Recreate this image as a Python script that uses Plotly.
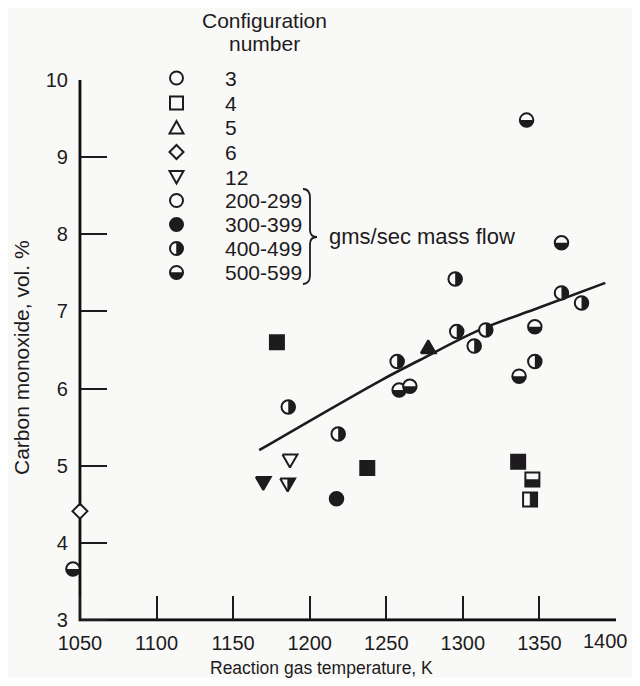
import numpy as np
import plotly.graph_objects as go

# ---------------- data ----------------
# Configuration 3 (circles), by mass-flow class
c3_300_T = [1217.5]
c3_300_CO = [4.57]
c3_400_T = [1186.0, 1218.6, 1257.1, 1295.0, 1296.0, 1307.4, 1315.0, 1347.0, 1364.4, 1377.5]
c3_400_CO = [5.76, 5.41, 6.35, 7.42, 6.74, 6.55, 6.76, 6.35, 7.24, 7.11]
c3_500_T = [1045.4, 1258.4, 1265.4, 1336.7, 1347.0, 1341.6, 1364.4]
c3_500_CO = [3.66, 5.98, 6.03, 6.16, 6.80, 9.48, 7.89]
# Configuration 4 (squares)
c4_300_T = [1178.6, 1237.6, 1336.1]
c4_300_CO = [6.60, 4.97, 5.05]
c4_400_T = [1343.9]
c4_400_CO = [4.56]
c4_500_T = [1345.4]
c4_500_CO = [4.82]
# Configuration 5 (triangle up)
c5_300_T = [1277.4]
c5_300_CO = [6.54]
# Configuration 6 (diamond)
c6_200_T = [1050.0]
c6_200_CO = [4.41]
# Configuration 12 (triangle down)
c12_200_T = [1187.1]
c12_200_CO = [5.06]
c12_300_T = [1169.7]
c12_300_CO = [4.77]
c12_400_T = [1185.6]
c12_400_CO = [4.75]
# Fitted curve
fit_T = [1167, 1246, 1272, 1311, 1350, 1393]
fit_CO = [5.20, 6.10, 6.37, 6.76, 7.05, 7.37]

x_ticks = [1050, 1100, 1150, 1200, 1250, 1300, 1350, 1400]
y_ticks = [3, 4, 5, 6, 7, 8, 9, 10]
legend_labels = ["3", "4", "5", "6", "12", "200-299", "300-399", "400-499", "500-599"]

# ---------------- layout geometry ----------------
OFF = 8                      # page body margin
W, H = 624, 670
ML, MR, MT, MB = 49, 16, 72, 55
XR = [1035, 1400]
YR = [2.96, 10.0]
PW, PH = W - ML - MR, H - MT - MB
KX = PW / (XR[1] - XR[0])   # px per K
KY = PH / (YR[1] - YR[0])   # px per vol.%

BG = "#f9f9f7"
K = "#1d1b1d"
FONT = "Liberation Sans, Arial, sans-serif"


def PX(x):  # page pixel -> paper
    return (x - OFF - ML) / PW


def PY(y):
    return (H - MB - (y - OFF)) / PH


def dy_paper(v):
    return (v - YR[0]) / (YR[1] - YR[0])


def dx_paper(v):
    return (v - XR[0]) / (XR[1] - XR[0])


# ---------- helpers producing polygons in data space ----------
def join(polys):
    xs, ys = [], []
    for px_, py_ in polys:
        xs += list(px_) + [None]
        ys += list(py_) + [None]
    return xs, ys


def half_circle(T, C, r, side):
    if side == "bottom":
        th = np.linspace(np.pi, 2 * np.pi, 40)
    else:
        th = np.linspace(-np.pi / 2, np.pi / 2, 40)
    return (list(T + r * np.cos(th) / KX), list(C + r * np.sin(th) / KY))


def half_square(T, C, h, side):
    dx, dy = h / KX, h / KY
    if side == "bottom":
        return ([T - dx, T + dx, T + dx, T - dx, T - dx], [C - dy, C - dy, C, C, C - dy])
    return ([T, T + dx, T + dx, T, T], [C - dy, C - dy, C + dy, C + dy, C - dy])


def triangle(T, C, hw, hh, up):
    dx, dy = hw / KX, hh / KY
    if up:
        return ([T - dx, T + dx, T, T - dx], [C - dy, C - dy, C + dy, C - dy])
    return ([T - dx, T + dx, T, T - dx], [C + dy, C + dy, C - dy, C + dy])


def half_tri_down_right(T, C, hw, hh):
    dx, dy = hw / KX, hh / KY
    return ([T, T + dx, T, T], [C + dy, C + dy, C - dy, C + dy])


fig = go.Figure()

# axis frame (left and bottom) as a thin filled band, under the marks
AW = 1.1  # half line width in px
fx = [x_ticks[0] - AW / KX, x_ticks[-1], x_ticks[-1], x_ticks[0] + AW / KX, x_ticks[0] + AW / KX,
      x_ticks[0] - AW / KX, x_ticks[0] - AW / KX]
fy = [y_ticks[0] - AW / KY, y_ticks[0] - AW / KY, y_ticks[0] + AW / KY, y_ticks[0] + AW / KY,
      y_ticks[-1], y_ticks[-1], y_ticks[0] - AW / KY]
fig.add_trace(go.Scatter(x=fx, y=fy, mode="lines", fill="toself", fillcolor="#111111",
                         line=dict(color="#111111", width=0.6), hoverinfo="skip"))

# fitted curve
fig.add_trace(go.Scatter(x=fit_T, y=fit_CO, mode="lines", line=dict(color=K, width=2.6, shape="spline"),
                         hoverinfo="skip"))

CS, SS, DS = 13.5, 14, 11.5
for xs, ys, fill in [(c3_400_T, c3_400_CO, BG), (c3_500_T, c3_500_CO, BG), (c3_300_T, c3_300_CO, K)]:
    fig.add_trace(go.Scatter(x=xs, y=ys, mode="markers",
                             marker=dict(symbol="circle", size=CS, color=fill, line=dict(color=K, width=2))))
for xs, ys, fill in [(c4_400_T, c4_400_CO, BG), (c4_500_T, c4_500_CO, BG), (c4_300_T, c4_300_CO, K)]:
    fig.add_trace(go.Scatter(x=xs, y=ys, mode="markers",
                             marker=dict(symbol="square", size=SS, color=fill, line=dict(color=K, width=2))))
fig.add_trace(go.Scatter(x=c6_200_T, y=c6_200_CO, mode="markers",
                         marker=dict(symbol="diamond", size=DS, color=BG, line=dict(color=K, width=2))))

HW, HH = 7.5, 6.5
tri_open = join([triangle(t, c, HW, HH, False) for t, c in zip(c12_200_T + c12_400_T, c12_200_CO + c12_400_CO)])
fig.add_trace(go.Scatter(x=tri_open[0], y=tri_open[1], mode="lines", fill="toself", fillcolor=BG,
                         line=dict(color=K, width=2), hoverinfo="skip"))
tri_fill = join([triangle(t, c, HW, HH, False) for t, c in zip(c12_300_T, c12_300_CO)] +
                [triangle(t, c, HW, HH, True) for t, c in zip(c5_300_T, c5_300_CO)])
fig.add_trace(go.Scatter(x=tri_fill[0], y=tri_fill[1], mode="lines", fill="toself", fillcolor=K,
                         line=dict(color=K, width=2), hoverinfo="skip"))

halves = ([half_circle(t, c, CS / 2, "right") for t, c in zip(c3_400_T, c3_400_CO)] +
          [half_circle(t, c, CS / 2, "bottom") for t, c in zip(c3_500_T, c3_500_CO)] +
          [half_square(t, c, SS / 2, "right") for t, c in zip(c4_400_T, c4_400_CO)] +
          [half_square(t, c, SS / 2, "bottom") for t, c in zip(c4_500_T, c4_500_CO)] +
          [half_tri_down_right(t, c, HW, HH) for t, c in zip(c12_400_T, c12_400_CO)])
hx, hy = join(halves)
fig.add_trace(go.Scatter(x=hx, y=hy, mode="lines", fill="toself", fillcolor=K,
                         line=dict(color=K, width=0.5), hoverinfo="skip"))

# ---------------- legend (paper space) ----------------
shapes = []
LX = 176.5
rows_y = [78, 103, 127.5, 152, 177, 200.5, 224.5, 248.5, 272.5]
LR = 6.5


def poly_path(pts):
    return "M " + " L ".join(f"{PX(a):.5f},{PY(b):.5f}" for a, b in pts) + " Z"


def circle_shape(cx, cy, r, fill):
    return dict(type="circle", xref="paper", yref="paper", x0=PX(cx - r), x1=PX(cx + r),
                y0=PY(cy + r), y1=PY(cy - r), line=dict(color=K, width=2), fillcolor=fill)


for i, cy in enumerate(rows_y):
    if i in (0, 5):
        shapes.append(circle_shape(LX, cy, LR, BG))
    elif i == 6:
        shapes.append(circle_shape(LX, cy, LR, K))
    elif i in (7, 8):
        shapes.append(circle_shape(LX, cy, LR, BG))
        th = np.linspace(-np.pi / 2, np.pi / 2, 30) if i == 7 else np.linspace(0, np.pi, 30)
        pts = [(LX + LR * np.cos(t), cy + LR * np.sin(t)) for t in th]
        shapes.append(dict(type="path", xref="paper", yref="paper", path=poly_path(pts),
                           fillcolor=K, line=dict(color=K, width=0.5)))
    elif i == 1:
        shapes.append(dict(type="rect", xref="paper", yref="paper", x0=PX(LX - LR), x1=PX(LX + LR),
                           y0=PY(cy + LR), y1=PY(cy - LR), line=dict(color=K, width=2), fillcolor=BG))
    elif i == 2:
        pts = [(LX - 7, cy + 6), (LX + 7, cy + 6), (LX, cy - 6.5)]
        shapes.append(dict(type="path", xref="paper", yref="paper", path=poly_path(pts),
                           fillcolor=BG, line=dict(color=K, width=2)))
    elif i == 3:
        pts = [(LX - 7, cy), (LX, cy - 7), (LX + 7, cy), (LX, cy + 7)]
        shapes.append(dict(type="path", xref="paper", yref="paper", path=poly_path(pts),
                           fillcolor=BG, line=dict(color=K, width=2)))
    elif i == 4:
        pts = [(LX - 7, cy - 6), (LX + 7, cy - 6), (LX, cy + 6.5)]
        shapes.append(dict(type="path", xref="paper", yref="paper", path=poly_path(pts),
                           fillcolor=BG, line=dict(color=K, width=2)))

# brace
bx0, bx1, bxm = 303, 310, 317
by0, by1, bym = 189, 284, 237
brace = (f"M {PX(bx0)},{PY(by0)} Q {PX(bx1)},{PY(by0)} {PX(bx1)},{PY(by0 + 9)} "
         f"L {PX(bx1)},{PY(bym - 7)} Q {PX(bx1)},{PY(bym)} {PX(bxm)},{PY(bym)} "
         f"Q {PX(bx1)},{PY(bym)} {PX(bx1)},{PY(bym + 7)} "
         f"L {PX(bx1)},{PY(by1 - 9)} Q {PX(bx1)},{PY(by1)} {PX(bx0)},{PY(by1)}")
shapes.append(dict(type="path", xref="paper", yref="paper", path=brace, line=dict(color=K, width=1.8)))


def ann(text, px, py, xanchor="left", size=21, angle=0):
    return dict(text=text, x=PX(px), y=PY(py), xref="paper", yref="paper", xanchor=xanchor,
                yanchor="middle", showarrow=False, textangle=angle,
                font=dict(family=FONT, size=size, color=K))


annotations = [ann("Configuration", 264, 20, "center"), ann("number", 264.5, 43, "center")]
for lab, cy in zip(legend_labels, rows_y):
    annotations.append(ann(lab, 223, cy))
annotations.append(ann("gms/sec mass flow", 327, 236, size=22))
annotations.append(ann("Reaction gas temperature, K", 321, 668, "center", size=17.5))
annotations.append(ann("Carbon monoxide, vol. %", 21, 358, "center", size=21, angle=-90))
# last x tick label, kept inside the visible page width
annotations.append(dict(text=str(x_ticks[-1]), x=dx_paper(x_ticks[-1]) + 14 / PW, y=PY(641),
                        xref="paper", yref="paper", xanchor="right", yanchor="middle", showarrow=False,
                        font=dict(family=FONT, size=20, color=K)))

x_text = [str(v) for v in x_ticks[:-1]] + [""]

fig.update_layout(
    width=W, height=H, margin=dict(l=ML, r=MR, t=MT, b=MB, autoexpand=False),
    paper_bgcolor=BG, plot_bgcolor=BG, showlegend=False,
    shapes=shapes, annotations=annotations,
    xaxis=dict(range=XR, anchor="free", position=dy_paper(y_ticks[0]), automargin=False,
               showline=False, showgrid=False, zeroline=False,
               tickmode="array", tickvals=x_ticks, ticktext=x_text,
               ticks="inside", ticklen=24, tickwidth=1.8, tickcolor=K,
               tickfont=dict(family=FONT, size=20, color=K), ticklabelstandoff=9),
    yaxis=dict(range=YR, anchor="free", position=dx_paper(x_ticks[0]), automargin=False,
               showline=False, showgrid=False, zeroline=False,
               tickmode="array", tickvals=y_ticks, ticktext=[str(v) for v in y_ticks],
               ticks="inside", ticklen=26, tickwidth=1.8, tickcolor=K,
               tickfont=dict(family=FONT, size=20, color=K), ticklabelstandoff=12),
)

fig.write_html("out.html")
